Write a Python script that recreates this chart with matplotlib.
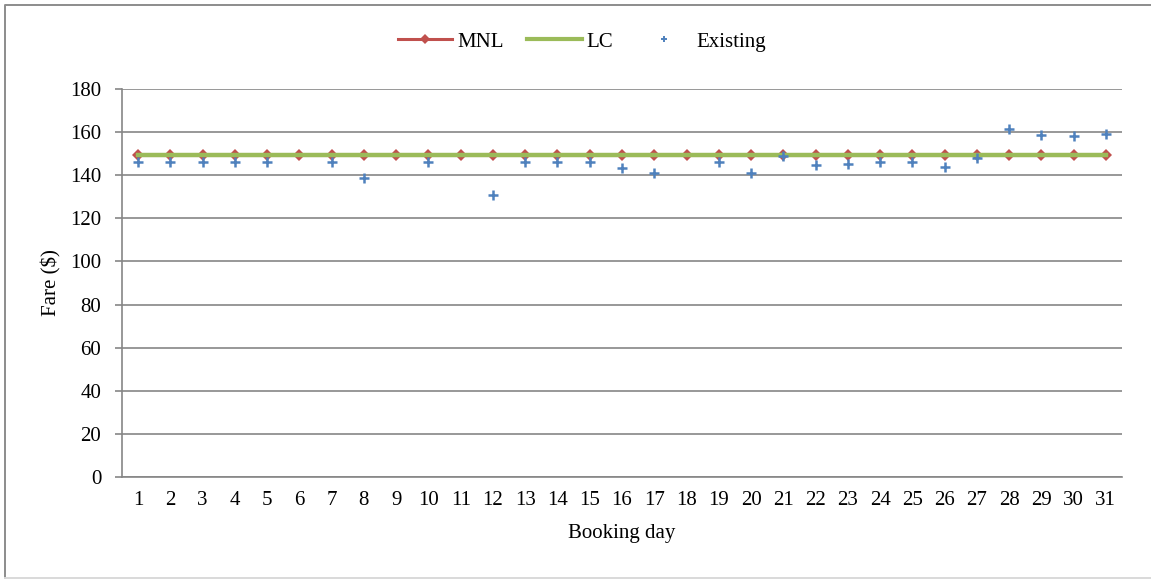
import numpy as np
import matplotlib.pyplot as plt
from matplotlib.lines import Line2D

plt.rcParams['font.family'] = ['Liberation Serif', 'DejaVu Serif']

days = np.arange(1, 32)
mnl = [149.5] * 31
lc = [149.5] * 31
# nan = no existing fare recorded that day
nan = np.nan
existing = [146, 146, 146, 146, 146, nan, 146, 138.5, nan, 146,
            nan, 131, 146, 146, 146, 143.3, 141, nan, 146, 141,
            149, 144.8, 145.3, 146, 146, 143.8, 147.8, 161.3, 158.7, 158.2,
            159]

W, H = 1151, 580
fig = plt.figure(figsize=(W/100, H/100), dpi=100)
ax = fig.add_axes([122/W, 1-477/H, (1122-122)/W, (477-89)/H])

ax.plot(days, mnl, color='#C0504D', lw=2.2, marker='D', ms=6,
        markeredgewidth=0, zorder=3)
ax.plot(days, lc, color='#9BBB59', lw=3.2, zorder=4)
ax.plot(days, existing, ls='none', marker='+', ms=6.5, mew=1.8,
        color='#4F81BD', zorder=5)

ax.set_xlim(0.5, 31.5)
ax.set_ylim(0, 180)
ax.set_yticks(np.arange(0, 181, 20))
ax.set_xticks(days)
ax.grid(axis='y', color='#868686', lw=1.2)
ax.set_axisbelow(True)
for s in ['top', 'right']:
    ax.spines[s].set_visible(False)
for s in ['left', 'bottom']:
    ax.spines[s].set_color('#868686')
    ax.spines[s].set_linewidth(1.2)
ax.tick_params(axis='x', length=0, pad=10, labelsize=15)
ax.tick_params(axis='y', length=5, width=1.2, color='#868686', pad=10, labelsize=15)
ax.set_xlabel('Booking day', fontsize=15, labelpad=10)
ax.set_ylabel('Fare ($)', fontsize=15, labelpad=6)

handles = [
    Line2D([], [], color='#C0504D', lw=2.2, marker='D', ms=5, markeredgewidth=0),
    Line2D([], [], color='#9BBB59', lw=3),
    Line2D([], [], ls='none', marker='+', ms=4.5, mew=1.4, color='#4F81BD'),
]
fig.legend(handles, ['MNL', 'LC', 'Existing'], loc='center',
           bbox_to_anchor=(582/W, 1-42/H), ncol=3, frameon=False,
           fontsize=15, handlelength=2.6, columnspacing=1.15, handletextpad=0.25)

# chart frame: dark top/left, faint bottom
x0, y0, y1 = 5/W, 2/H, 1-5/H
fig.add_artist(Line2D([x0, x0, 1], [y0, y1, y1], transform=fig.transFigure,
                      color='#8C8C8C', lw=1.4))
fig.add_artist(Line2D([x0, 1], [y0, y0], transform=fig.transFigure,
                      color='#D9D9D9', lw=1.4))

fig.savefig('out.png', dpi=100)
